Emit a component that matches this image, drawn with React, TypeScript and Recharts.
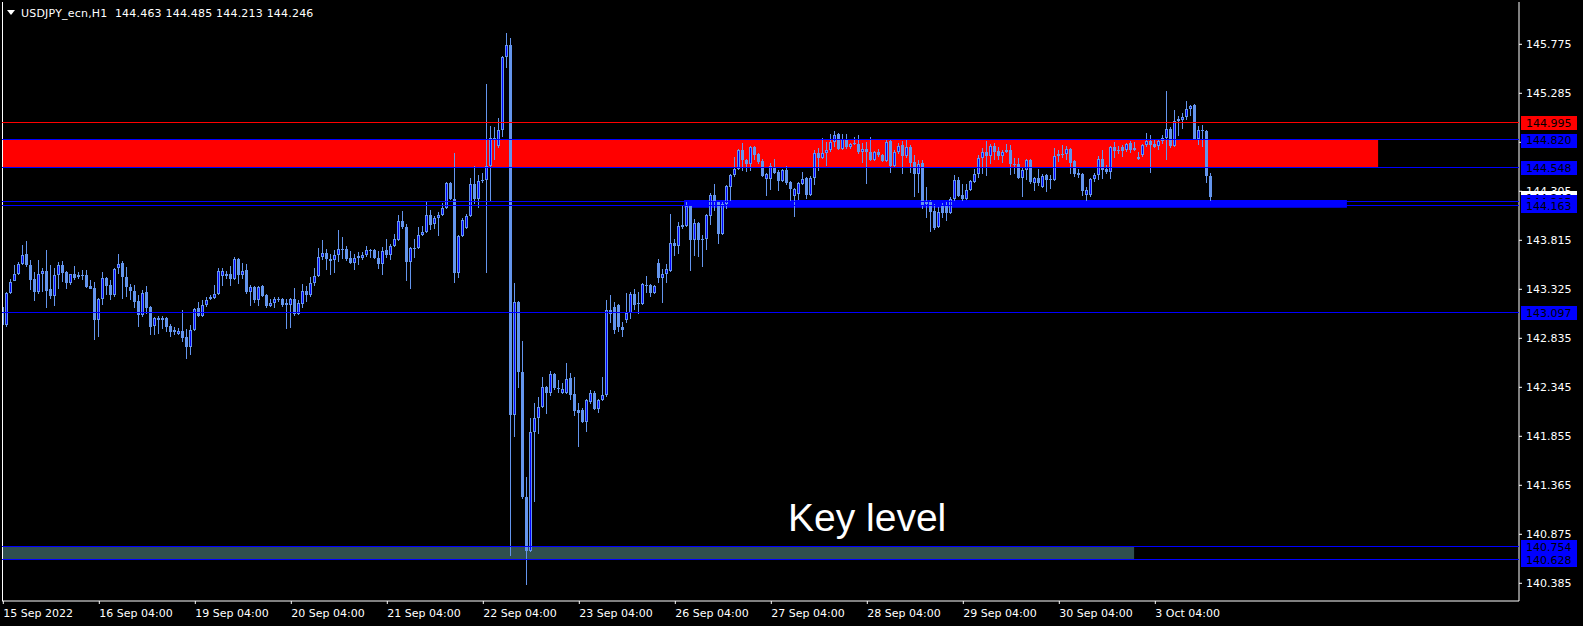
import React from 'react';
import { ComposedChart, Bar, XAxis, YAxis, ReferenceLine, ReferenceArea } from 'recharts';

// USDJPY H1, one entry per bar (15 Sep 2022 04:00 onwards)
const opens = [
  143.15, 142.97, 143.29, 143.41, 143.48, 143.58, 143.68, 143.57, 143.43, 143.30,
  143.48, 143.51, 143.33, 143.26, 143.47, 143.57, 143.50, 143.39, 143.48, 143.47,
  143.46, 143.47, 143.36, 143.34, 143.02, 143.23, 143.44, 143.37, 143.27, 143.54,
  143.59, 143.45, 143.35, 143.31, 143.21, 143.07, 143.30, 143.15, 142.96, 143.02,
  143.04, 143.04, 142.96, 142.90, 142.88, 142.91, 142.85, 142.75, 142.92, 143.14,
  143.06, 143.17, 143.23, 143.24, 143.28, 143.46, 143.46, 143.48, 143.43, 143.63,
  143.47, 143.52, 143.30, 143.35, 143.22, 143.36, 143.27, 143.16, 143.19, 143.23,
  143.23, 143.19, 143.17, 143.23, 143.08, 143.18, 143.31, 143.27, 143.39, 143.46,
  143.65, 143.69, 143.61, 143.62, 143.67, 143.73, 143.73, 143.64, 143.59, 143.64,
  143.64, 143.67, 143.72, 143.72, 143.64, 143.58, 143.72, 143.67, 143.76, 143.82,
  144.01, 143.95, 143.60, 143.74, 143.74, 143.87, 143.90, 144.07, 143.98, 144.04,
  144.07, 144.14, 144.39, 144.23, 143.49, 143.86, 143.94, 144.06, 144.38, 144.23,
  144.41, 144.42, 144.56, 144.84, 144.76, 144.92, 145.65, 145.77, 142.07, 143.20,
  142.50, 141.25, 140.71, 141.90, 142.04, 142.15, 142.35, 142.29, 142.48, 142.34,
  142.29, 142.29, 142.44, 142.28, 142.12, 142.12, 142.00, 142.20, 142.29, 142.13,
  142.22, 142.27, 143.12, 143.15, 143.17, 142.95, 143.02, 143.09, 143.28, 143.18,
  143.18, 143.37, 143.37, 143.29, 143.59, 143.44, 143.48, 143.51, 143.79, 143.76,
  143.95, 143.96, 144.16, 143.82, 143.99, 143.82, 143.83, 144.06, 144.27, 144.20,
  143.88, 144.18, 144.35, 144.47, 144.53, 144.72, 144.62, 144.58, 144.75, 144.68,
  144.61, 144.43, 144.43, 144.55, 144.50, 144.41, 144.52, 144.40, 144.26, 144.28,
  144.38, 144.44, 144.27, 144.44, 144.69, 144.64, 144.69, 144.72, 144.80, 144.88,
  144.73, 144.83, 144.75, 144.78, 144.78, 144.70, 144.73, 144.70, 144.62, 144.70,
  144.67, 144.61, 144.81, 144.56, 144.70, 144.77, 144.66, 144.75, 144.60, 144.48,
  144.59, 144.21, 144.21, 144.11, 143.95, 144.16, 144.16, 144.09, 144.23, 144.42,
  144.27, 144.23, 144.32, 144.40, 144.48, 144.64, 144.70, 144.66, 144.76, 144.71,
  144.66, 144.70, 144.72, 144.58, 144.58, 144.44, 144.52, 144.62, 144.39, 144.44,
  144.35, 144.47, 144.42, 144.42, 144.66, 144.67, 144.68, 144.73, 144.61, 144.49,
  144.48, 144.27, 144.27, 144.43, 144.47, 144.63, 144.53, 144.50, 144.75, 144.71,
  144.75, 144.72, 144.79, 144.72, 144.65, 144.67, 144.77, 144.81, 144.78, 144.76,
  144.81, 144.84, 144.93, 144.76, 145.01, 145.02, 145.05, 145.13, 145.17, 144.83,
  144.92, 144.91, 144.463,
];

const highs = [
  143.19, 143.30, 143.43, 143.57, 143.60, 143.77, 143.81, 143.62, 143.50, 143.62,
  143.54, 143.72, 143.57, 143.54, 143.60, 143.61, 143.51, 143.48, 143.56, 143.50,
  143.52, 143.52, 143.42, 143.40, 143.24, 143.50, 143.45, 143.42, 143.54, 143.68,
  143.61, 143.55, 143.38, 143.37, 143.27, 143.32, 143.36, 143.16, 143.05, 143.06,
  143.06, 143.05, 142.98, 142.95, 142.94, 143.12, 142.93, 142.97, 143.14, 143.20,
  143.22, 143.25, 143.27, 143.37, 143.54, 143.54, 143.51, 143.56, 143.65, 143.64,
  143.59, 143.58, 143.37, 143.36, 143.36, 143.37, 143.28, 143.23, 143.25, 143.25,
  143.24, 143.23, 143.24, 143.34, 143.22, 143.38, 143.36, 143.45, 143.54, 143.74,
  143.82, 143.73, 143.68, 143.72, 143.92, 143.85, 143.76, 143.71, 143.68, 143.70,
  143.70, 143.76, 143.73, 143.73, 143.71, 143.75, 143.83, 143.78, 143.88, 144.07,
  144.11, 143.98, 143.75, 143.83, 143.95, 143.96, 144.20, 144.12, 144.06, 144.10,
  144.19, 144.40, 144.40, 144.69, 143.87, 144.04, 144.08, 144.44, 144.56, 144.47,
  144.49, 145.38, 144.96, 144.95, 145.04, 145.66, 145.89, 145.84, 143.39, 143.21,
  142.81, 141.45, 142.04, 142.19, 142.25, 142.45, 142.36, 142.51, 142.49, 142.42,
  142.39, 142.59, 142.49, 142.45, 142.19, 142.14, 142.23, 142.32, 142.31, 142.23,
  142.45, 143.22, 143.27, 143.20, 143.18, 143.00, 143.29, 143.30, 143.33, 143.30,
  143.39, 143.46, 143.38, 143.37, 143.63, 143.53, 143.58, 144.08, 143.83, 144.00,
  144.16, 144.20, 144.17, 144.03, 144.00, 143.87, 144.08, 144.29, 144.38, 144.21,
  144.20, 144.37, 144.48, 144.65, 144.73, 144.79, 144.63, 144.76, 144.76, 144.69,
  144.63, 144.49, 144.59, 144.63, 144.52, 144.53, 144.56, 144.41, 144.34, 144.40,
  144.50, 144.45, 144.46, 144.72, 144.74, 144.84, 144.80, 144.88, 144.91, 144.89,
  144.88, 144.88, 144.79, 144.85, 144.87, 144.79, 144.80, 144.85, 144.71, 144.73,
  144.68, 144.82, 144.82, 144.72, 144.79, 144.81, 144.82, 144.77, 144.67, 144.62,
  144.62, 144.35, 144.22, 144.18, 144.15, 144.19, 144.20, 144.25, 144.47, 144.45,
  144.38, 144.38, 144.42, 144.53, 144.67, 144.74, 144.81, 144.78, 144.79, 144.75,
  144.72, 144.78, 144.77, 144.64, 144.64, 144.54, 144.63, 144.63, 144.45, 144.53,
  144.48, 144.48, 144.47, 144.74, 144.72, 144.77, 144.76, 144.74, 144.62, 144.53,
  144.49, 144.35, 144.44, 144.49, 144.66, 144.72, 144.57, 144.76, 144.80, 144.76,
  144.77, 144.79, 144.81, 144.80, 144.70, 144.78, 144.89, 144.87, 144.83, 144.83,
  144.87, 145.31, 144.95, 145.12, 145.06, 145.09, 145.21, 145.17, 145.18, 144.96,
  144.97, 144.92, 144.485,
];

const lows = [
  142.91, 142.95, 143.28, 143.41, 143.47, 143.57, 143.55, 143.32, 143.21, 143.28,
  143.30, 143.14, 143.23, 143.16, 143.33, 143.40, 143.33, 143.37, 143.42, 143.43,
  143.42, 143.34, 143.33, 142.82, 142.85, 143.17, 143.27, 143.22, 143.25, 143.48,
  143.23, 143.25, 143.22, 143.14, 142.95, 143.05, 143.08, 142.87, 142.87, 142.88,
  142.93, 142.90, 142.85, 142.87, 142.87, 142.80, 142.63, 142.67, 142.91, 143.05,
  143.05, 143.15, 143.22, 143.23, 143.27, 143.36, 143.43, 143.36, 143.42, 143.38,
  143.43, 143.28, 143.16, 143.19, 143.16, 143.25, 143.14, 143.15, 143.14, 143.20,
  143.15, 142.93, 142.94, 143.06, 143.07, 143.14, 143.20, 143.25, 143.36, 143.45,
  143.62, 143.52, 143.47, 143.49, 143.60, 143.63, 143.61, 143.58, 143.52, 143.57,
  143.62, 143.65, 143.64, 143.63, 143.53, 143.47, 143.64, 143.62, 143.75, 143.81,
  143.93, 143.41, 143.33, 143.64, 143.73, 143.86, 143.89, 143.92, 143.93, 143.86,
  144.06, 144.13, 144.22, 143.39, 143.44, 143.85, 143.93, 144.05, 144.18, 144.14,
  144.39, 143.49, 144.21, 144.62, 144.74, 144.85, 145.54, 140.66, 141.85, 142.34,
  141.23, 140.37, 140.70, 141.20, 141.88, 142.14, 142.08, 142.26, 142.32, 142.29,
  142.28, 142.28, 142.22, 142.06, 141.75, 141.99, 141.90, 142.18, 142.12, 142.09,
  142.21, 142.25, 142.99, 142.88, 142.90, 142.85, 142.99, 143.03, 143.12, 143.08,
  143.17, 143.29, 143.25, 143.28, 143.39, 143.19, 143.39, 143.50, 143.66, 143.68,
  143.93, 143.95, 143.51, 143.66, 143.65, 143.55, 143.72, 143.97, 144.11, 143.78,
  143.87, 144.13, 144.21, 144.45, 144.52, 144.51, 144.50, 144.51, 144.62, 144.58,
  144.45, 144.26, 144.32, 144.48, 144.31, 144.40, 144.37, 144.21, 144.05, 144.22,
  144.37, 144.23, 144.26, 144.37, 144.51, 144.63, 144.56, 144.70, 144.75, 144.72,
  144.72, 144.73, 144.73, 144.77, 144.68, 144.59, 144.38, 144.61, 144.61, 144.65,
  144.60, 144.60, 144.49, 144.55, 144.68, 144.48, 144.64, 144.49, 144.25, 144.29,
  144.13, 144.04, 143.90, 143.92, 143.94, 144.04, 144.01, 144.08, 144.21, 144.25,
  144.21, 144.22, 144.31, 144.39, 144.44, 144.48, 144.46, 144.58, 144.62, 144.62,
  144.59, 144.69, 144.47, 144.48, 144.43, 144.25, 144.42, 144.38, 144.31, 144.36,
  144.34, 144.30, 144.33, 144.41, 144.60, 144.64, 144.62, 144.48, 144.45, 144.44,
  144.26, 144.21, 144.25, 144.40, 144.42, 144.43, 144.48, 144.43, 144.64, 144.68,
  144.65, 144.70, 144.69, 144.71, 144.62, 144.65, 144.75, 144.49, 144.74, 144.72,
  144.78, 144.62, 144.74, 144.75, 144.86, 144.93, 145.02, 145.06, 144.82, 144.77,
  144.75, 144.39, 144.213,
];

const closes = [
  142.97, 143.29, 143.40, 143.48, 143.58, 143.67, 143.57, 143.42, 143.30, 143.48,
  143.51, 143.31, 143.26, 143.47, 143.57, 143.49, 143.39, 143.48, 143.44, 143.45,
  143.47, 143.35, 143.33, 143.02, 143.23, 143.44, 143.36, 143.27, 143.53, 143.58,
  143.45, 143.35, 143.31, 143.20, 143.07, 143.29, 143.14, 142.95, 143.04, 143.04,
  143.02, 142.95, 142.90, 142.92, 142.91, 142.84, 142.75, 142.92, 143.13, 143.06,
  143.17, 143.22, 143.25, 143.28, 143.51, 143.51, 143.48, 143.43, 143.63, 143.47,
  143.51, 143.30, 143.35, 143.22, 143.35, 143.26, 143.16, 143.19, 143.23, 143.22,
  143.17, 143.17, 143.23, 143.08, 143.19, 143.31, 143.27, 143.39, 143.46, 143.65,
  143.69, 143.63, 143.63, 143.67, 143.73, 143.72, 143.63, 143.59, 143.64, 143.66,
  143.67, 143.72, 143.71, 143.64, 143.58, 143.71, 143.67, 143.76, 143.83, 144.01,
  143.95, 143.60, 143.74, 143.73, 143.87, 143.90, 144.07, 143.97, 144.04, 144.07,
  144.14, 144.39, 144.23, 143.49, 143.86, 144.02, 144.06, 144.38, 144.23, 144.41,
  144.42, 144.56, 144.84, 144.82, 144.92, 145.65, 145.77, 142.07, 143.20, 142.50,
  141.25, 140.71, 141.90, 142.04, 142.15, 142.35, 142.29, 142.48, 142.34, 142.33,
  142.33, 142.43, 142.27, 142.11, 142.09, 142.00, 142.22, 142.29, 142.13, 142.22,
  142.27, 143.12, 143.08, 142.92, 142.95, 142.92, 143.09, 143.28, 143.17, 143.19,
  143.38, 143.36, 143.29, 143.36, 143.44, 143.48, 143.53, 143.79, 143.76, 143.96,
  143.97, 144.16, 143.82, 143.99, 143.82, 143.83, 144.07, 144.27, 144.20, 143.88,
  144.18, 144.36, 144.47, 144.53, 144.72, 144.62, 144.58, 144.75, 144.67, 144.60,
  144.46, 144.48, 144.56, 144.49, 144.41, 144.52, 144.39, 144.33, 144.33, 144.39,
  144.43, 144.27, 144.44, 144.69, 144.64, 144.69, 144.72, 144.80, 144.87, 144.73,
  144.83, 144.75, 144.78, 144.79, 144.70, 144.73, 144.70, 144.62, 144.70, 144.67,
  144.61, 144.80, 144.56, 144.70, 144.76, 144.66, 144.75, 144.59, 144.48, 144.58,
  144.16, 144.18, 144.10, 143.94, 144.10, 144.09, 144.09, 144.23, 144.42, 144.26,
  144.23, 144.32, 144.41, 144.48, 144.64, 144.70, 144.66, 144.76, 144.70, 144.66,
  144.70, 144.72, 144.58, 144.57, 144.44, 144.52, 144.62, 144.40, 144.44, 144.39,
  144.46, 144.42, 144.43, 144.66, 144.68, 144.68, 144.73, 144.59, 144.48, 144.47,
  144.31, 144.32, 144.43, 144.47, 144.63, 144.52, 144.50, 144.75, 144.71, 144.72,
  144.71, 144.78, 144.72, 144.74, 144.63, 144.77, 144.81, 144.77, 144.75, 144.81,
  144.84, 144.93, 144.76, 145.01, 145.03, 145.05, 145.13, 145.16, 144.83, 144.92,
  144.91, 144.46, 144.246,
];

// bar index of each day's 04:00 tick
const dayTicks = [0, 24, 48, 72, 96, 120, 144, 168, 192, 216, 240, 264, 288];
const dayLabels = [
  '15 Sep 2022', '16 Sep 04:00', '19 Sep 04:00', '20 Sep 04:00', '21 Sep 04:00',
  '22 Sep 04:00', '23 Sep 04:00', '26 Sep 04:00', '27 Sep 04:00', '28 Sep 04:00',
  '29 Sep 04:00', '30 Sep 04:00', '3 Oct 04:00',
];

const priceTicks = [
  145.775, 145.285, 144.795, 144.305, 143.815, 143.325,
  142.835, 142.345, 141.855, 141.365, 140.875, 140.385,
];

const redLevels = [144.995];
const blueLevels = [144.82, 144.548, 144.205, 144.163, 143.097, 140.754, 140.628];
const bidPrice = 144.246;

// zones: [low, high] in price, [from, to] in bar index
const supplyZone = [144.548, 144.82];
const supplyZoneBars = [-0.3, 343.7];
const pivotZone = [144.14, 144.218];
const pivotZoneBars = [170.2, 335.9];
const keyZone = [140.628, 140.754];
const keyZoneBars = [-0.3, 282.7];

const title = 'USDJPY_ecn,H1  144.463 144.485 144.213 144.246';

const candles = opens.map((o, i) => ({
  i,
  open: o,
  high: highs[i],
  low: lows[i],
  close: closes[i],
}));

const CORNFLOWER = '#6495ed';
const BLUE = '#0000ff';
const FONT = 'DejaVu Sans, Verdana, sans-serif';
const X_DOMAIN = [-0.325, 378.925];
const Y_DOMAIN = [140.208, 146.198];

const Candle = (props: any) => {
  const { x, y, width, height, payload } = props;
  const { open, close, high, low } = payload;
  const top = Math.min(y, y + height);
  const h = Math.abs(height);
  const span = high - low || 1;
  const py = (v: number) => top + ((high - v) / span) * h;
  const c = Math.floor(x + width / 2);
  const yo = py(open);
  const yc = py(close);
  const bTop = Math.round(Math.min(yo, yc));
  const bBot = Math.max(bTop + 1, Math.round(Math.max(yo, yc)));
  const wTop = Math.round(top);
  const wBot = Math.max(wTop + 1, Math.round(top + h));
  const bull = close > open;
  return (
    <g shapeRendering="crispEdges">
      <rect x={c} y={wTop} width={1} height={wBot - wTop} fill={CORNFLOWER} />
      <rect x={c - 1} y={bTop} width={3} height={bBot - bTop} fill={CORNFLOWER} />
      {bull && bBot - bTop > 2 && (
        <rect x={c} y={bTop + 1} width={1} height={bBot - bTop - 2} fill={BLUE} />
      )}
    </g>
  );
};

const PriceTag = (props: any) => {
  const { viewBox, text, bg, fg } = props;
  if (!viewBox) return null;
  const right = viewBox.x + viewBox.width;
  const y = viewBox.y;
  return (
    <g>
      <rect x={right + 2} y={Math.round(y) - 6} width={56} height={14} fill={bg} shapeRendering="crispEdges" />
      <text x={right + 7} y={y + 4.5} fill={fg} fontSize={11} fontFamily={FONT}>
        {text}
      </text>
    </g>
  );
};

const DayTick = (props: any) => {
  const { x, y, payload } = props;
  const idx = dayTicks.indexOf(payload.value);
  return (
    <text x={x} y={y} dy="0.71em" fill="#fff" fontSize={11} fontFamily={FONT} textAnchor="start">
      {dayLabels[idx]}
    </text>
  );
};

const App = () => {
  return (
    <div style={{ position: 'relative', width: 1583, height: 626, background: '#000' }}>
      <style>{'body{margin:0;background:#000}'}</style>
      <ComposedChart
        width={1583}
        height={626}
        data={candles}
        margin={{ top: 2, right: 0, left: 2, bottom: 0 }}
      >
        <XAxis
          dataKey="i"
          type="number"
          domain={X_DOMAIN}
          allowDataOverflow
          ticks={dayTicks}
          interval={0}
          height={25}
          stroke="#fff"
          tickSize={3}
          tickMargin={5}
          tick={<DayTick />}
        />
        <YAxis
          orientation="right"
          type="number"
          domain={Y_DOMAIN}
          allowDataOverflow
          ticks={priceTicks}
          interval={0}
          width={64}
          stroke="#fff"
          tickSize={3}
          tickMargin={4}
          tickFormatter={(v: number) => v.toFixed(3)}
          tick={{ fill: '#fff', fontSize: 11, fontFamily: FONT, textAnchor: 'start' }}
        />
        <ReferenceArea
          x1={supplyZoneBars[0]}
          x2={supplyZoneBars[1]}
          y1={supplyZone[0]}
          y2={supplyZone[1]}
          fill="#ff0000"
          fillOpacity={1}
          stroke="none"
        />
        <ReferenceArea
          x1={pivotZoneBars[0]}
          x2={pivotZoneBars[1]}
          y1={pivotZone[0]}
          y2={pivotZone[1]}
          fill={BLUE}
          fillOpacity={1}
          stroke="none"
        />
        <ReferenceArea
          x1={keyZoneBars[0]}
          x2={keyZoneBars[1]}
          y1={keyZone[0]}
          y2={keyZone[1]}
          fill="#2f4f4f"
          fillOpacity={1}
          stroke="none"
        />
        <ReferenceLine x={-0.2} stroke="#fff" />
        <Bar
          dataKey={(d: any) => [d.low, d.high]}
          barSize={3}
          shape={<Candle />}
          isAnimationActive={false}
        />
      </ComposedChart>

      {/* level lines and price tags sit on top of the price scale */}
      <div style={{ position: 'absolute', left: 0, top: 0 }}>
        <ComposedChart
          width={1583}
          height={626}
          data={candles}
          margin={{ top: 2, right: 64, left: 2, bottom: 25 }}
        >
          <XAxis dataKey="i" type="number" domain={X_DOMAIN} allowDataOverflow hide />
          <YAxis type="number" domain={Y_DOMAIN} allowDataOverflow hide />
          {redLevels.map((p) => (
            <ReferenceLine
              key={'r' + p}
              y={p}
              stroke="#ff0000"
              shapeRendering="crispEdges"
              label={<PriceTag text={p.toFixed(3)} bg="#ff0000" fg="#000" />}
            />
          ))}
          <ReferenceLine
            y={bidPrice}
            stroke="none"
            label={<PriceTag text={bidPrice.toFixed(3)} bg="#fff" fg="#000" />}
          />
          {blueLevels.map((p) => (
            <ReferenceLine
              key={'b' + p}
              y={p}
              stroke={BLUE}
              shapeRendering="crispEdges"
              label={<PriceTag text={p.toFixed(3)} bg={BLUE} fg="#000" />}
            />
          ))}
        </ComposedChart>
      </div>

      <svg
        width={1583}
        height={626}
        style={{ position: 'absolute', left: 0, top: 0, pointerEvents: 'none' }}
      >
        <polygon points="7,10 15,10 11,15" fill="#fff" />
        <text
          x={21}
          y={17}
          fill="#fff"
          fontSize={11}
          letterSpacing={0.2}
          fontFamily={FONT}
          style={{ whiteSpace: 'pre' }}
        >
          {title}
        </text>
        <text x={788} y={531} fill="#fff" fontSize={39} fontFamily="Liberation Sans, Arial, sans-serif">
          Key level
        </text>
      </svg>
    </div>
  );
};

export default App;
